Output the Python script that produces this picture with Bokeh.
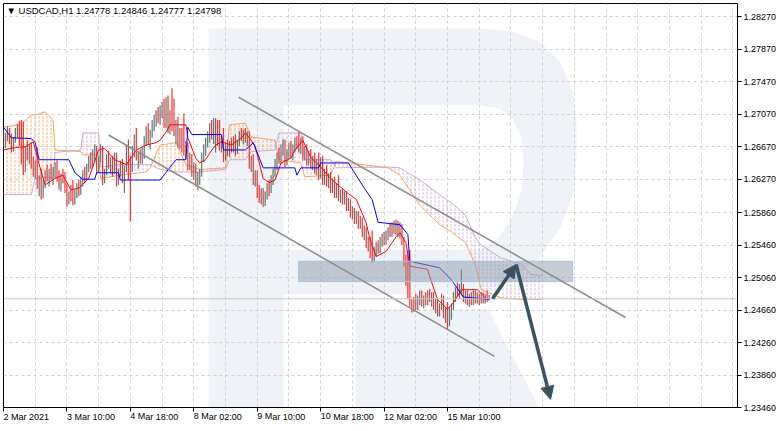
import numpy as np
from bokeh.plotting import figure
from bokeh.models import FixedTicker, PrintfTickFormatter, Label, Span, Arrow, NormalHead, Range1d
from bokeh.embed import file_html
from bokeh.resources import INLINE

# ---------------- data ----------------
TITLE = "USDCAD,H1  1.24778 1.24846 1.24777 1.24798"
TIME_TICK_BARS = [0, 32, 64, 96, 128, 160, 192, 224]
TIME_TICK_LABELS = ["2 Mar 2021", "3 Mar 10:00", "4 Mar 18:00", "8 Mar 02:00",
                    "9 Mar 10:00", "10 Mar 18:00", "12 Mar 02:00", "15 Mar 10:00"]
PRICE_TICKS = [1.23460, 1.23860, 1.24260, 1.24660, 1.25060, 1.25460, 1.25860,
               1.26270, 1.26670, 1.27070, 1.27470, 1.27870, 1.28270]

O = [1.2680,1.2672,1.2681,1.2688,1.2675,1.2664,1.2676,1.2686,1.2692,1.2672,
     1.2650,1.2640,1.2662,1.2655,1.2666,1.2644,1.2634,1.2646,1.2620,1.2628,
     1.2610,1.2622,1.2634,1.2628,1.2636,1.2630,1.2638,1.2642,1.2628,1.2620,
     1.2630,1.2626,1.2614,1.2600,1.2608,1.2604,1.2598,1.2610,1.2618,1.2612,
     1.2626,1.2634,1.2628,1.2642,1.2652,1.2646,1.2660,1.2666,1.2640,1.2652,
     1.2664,1.2628,1.2636,1.2654,1.2644,1.2650,1.2636,1.2656,1.2624,1.2636,
     1.2646,1.2626,1.2640,1.2660,1.2652,1.2640,1.2664,1.2676,1.2652,1.2656,
     1.2650,1.2662,1.2676,1.2688,1.2676,1.2684,1.2696,1.2702,1.2708,1.2700,
     1.2714,1.2718,1.2698,1.2720,1.2690,1.2708,1.2694,1.2686,1.2696,1.2672,
     1.2684,1.2704,1.2660,1.2668,1.2644,1.2654,1.2634,1.2642,1.2624,1.2630,
     1.2636,1.2656,1.2664,1.2672,1.2682,1.2690,1.2684,1.2672,1.2696,1.2698,
     1.2668,1.2676,1.2654,1.2668,1.2660,1.2670,1.2664,1.2676,1.2662,1.2672,
     1.2682,1.2678,1.2684,1.2676,1.2682,1.2646,1.2652,1.2626,1.2634,1.2610,
     1.2604,1.2612,1.2598,1.2608,1.2618,1.2612,1.2628,1.2636,1.2646,1.2656,
     1.2650,1.2666,1.2672,1.2648,1.2660,1.2668,1.2658,1.2666,1.2674,1.2682,
     1.2664,1.2674,1.2656,1.2664,1.2648,1.2658,1.2644,1.2652,1.2638,1.2648,
     1.2630,1.2650,1.2624,1.2636,1.2622,1.2630,1.2614,1.2624,1.2608,1.2618,
     1.2604,1.2610,1.2600,1.2608,1.2592,1.2600,1.2584,1.2590,1.2576,1.2584,
     1.2570,1.2578,1.2560,1.2566,1.2546,1.2552,1.2560,1.2530,1.2540,1.2546,
     1.2540,1.2552,1.2556,1.2550,1.2560,1.2564,1.2560,1.2570,1.2566,1.2572,
     1.2560,1.2570,1.2550,1.2526,1.2502,1.2490,1.2476,1.2470,1.2478,1.2470,
     1.2480,1.2486,1.2474,1.2480,1.2476,1.2486,1.2480,1.2484,1.2470,1.2476,
     1.2462,1.2470,1.2482,1.2460,1.2466,1.2450,1.2466,1.2470,1.2484,1.2490,
     1.2486,1.2488,1.2494,1.2480,1.2486,1.2476,1.2482,1.2476,1.2486,1.2478,
     1.2484,1.2476,1.2484,1.2478,1.2482,1.24778]
H = [1.2688,1.2684,1.2692,1.2690,1.2683,1.2679,1.2690,1.2695,1.2699,1.2700,
     1.2698,1.2668,1.2675,1.2670,1.2672,1.2655,1.2650,1.2666,1.2632,1.2640,
     1.2626,1.2638,1.2645,1.2640,1.2646,1.2642,1.2648,1.2650,1.2638,1.2634,
     1.2640,1.2636,1.2622,1.2612,1.2620,1.2626,1.2614,1.2622,1.2626,1.2630,
     1.2638,1.2642,1.2646,1.2656,1.2660,1.2664,1.2670,1.2668,1.2656,1.2670,
     1.2668,1.2640,1.2658,1.2662,1.2654,1.2656,1.2660,1.2660,1.2640,1.2650,
     1.2652,1.2644,1.2668,1.2676,1.2656,1.2668,1.2682,1.2690,1.2660,1.2664,
     1.2666,1.2680,1.2692,1.2696,1.2688,1.2700,1.2706,1.2712,1.2716,1.2718,
     1.2722,1.2726,1.2728,1.2730,1.2712,1.2739,1.2726,1.2700,1.2704,1.2690,
     1.2690,1.2708,1.2674,1.2672,1.2660,1.2658,1.2648,1.2646,1.2636,1.2640,
     1.2660,1.2670,1.2678,1.2686,1.2696,1.2700,1.2702,1.2702,1.2700,1.2700,
     1.2680,1.2690,1.2672,1.2676,1.2674,1.2678,1.2680,1.2682,1.2676,1.2686,
     1.2690,1.2688,1.2690,1.2686,1.2686,1.2656,1.2658,1.2638,1.2638,1.2620,
     1.2616,1.2616,1.2612,1.2622,1.2626,1.2632,1.2640,1.2652,1.2660,1.2666,
     1.2670,1.2676,1.2676,1.2664,1.2672,1.2674,1.2670,1.2678,1.2680,1.2685,
     1.2678,1.2680,1.2668,1.2670,1.2662,1.2664,1.2656,1.2660,1.2652,1.2660,
     1.2654,1.2656,1.2640,1.2644,1.2634,1.2636,1.2628,1.2630,1.2622,1.2632,
     1.2614,1.2616,1.2612,1.2612,1.2604,1.2602,1.2594,1.2592,1.2588,1.2588,
     1.2582,1.2580,1.2570,1.2568,1.2556,1.2556,1.2564,1.2544,1.2550,1.2552,
     1.2556,1.2560,1.2562,1.2564,1.2568,1.2572,1.2574,1.2576,1.2577,1.2576,
     1.2574,1.2572,1.2556,1.2534,1.2540,1.2540,1.2480,1.2482,1.2486,1.2484,
     1.2490,1.2490,1.2484,1.2488,1.2490,1.2492,1.2488,1.2488,1.2480,1.2480,
     1.2474,1.2486,1.2484,1.2470,1.2476,1.2470,1.2474,1.2488,1.2494,1.2500,
     1.2498,1.2516,1.2498,1.2490,1.2490,1.2486,1.2488,1.2490,1.2490,1.2488,
     1.2486,1.2488,1.2488,1.2486,1.2490,1.24846]
L = [1.2668,1.2665,1.2674,1.2670,1.2660,1.2661,1.2672,1.2678,1.2668,1.2645,
     1.2632,1.2636,1.2650,1.2645,1.2640,1.2630,1.2628,1.2615,1.2606,1.2602,
     1.2604,1.2616,1.2624,1.2618,1.2626,1.2620,1.2628,1.2624,1.2614,1.2612,
     1.2622,1.2610,1.2593,1.2596,1.2600,1.2595,1.2596,1.2604,1.2606,1.2608,
     1.2618,1.2622,1.2626,1.2636,1.2640,1.2642,1.2648,1.2634,1.2636,1.2648,
     1.2620,1.2622,1.2632,1.2640,1.2634,1.2630,1.2634,1.2618,1.2620,1.2630,
     1.2622,1.2610,1.2636,1.2626,1.2575,1.2636,1.2654,1.2650,1.2640,1.2646,
     1.2646,1.2652,1.2668,1.2670,1.2664,1.2678,1.2686,1.2692,1.2696,1.2694,
     1.2702,1.2690,1.2690,1.2684,1.2682,1.2686,1.2680,1.2670,1.2666,1.2664,
     1.2660,1.2656,1.2652,1.2638,1.2638,1.2630,1.2626,1.2618,1.2614,1.2620,
     1.2630,1.2648,1.2656,1.2666,1.2672,1.2676,1.2670,1.2660,1.2668,1.2662,
     1.2660,1.2648,1.2650,1.2656,1.2654,1.2660,1.2660,1.2656,1.2658,1.2668,
     1.2674,1.2670,1.2672,1.2668,1.2640,1.2636,1.2620,1.2618,1.2604,1.2598,
     1.2596,1.2593,1.2594,1.2602,1.2606,1.2610,1.2620,1.2630,1.2638,1.2646,
     1.2646,1.2656,1.2642,1.2644,1.2652,1.2654,1.2650,1.2660,1.2664,1.2660,
     1.2658,1.2650,1.2650,1.2644,1.2644,1.2640,1.2638,1.2634,1.2632,1.2626,
     1.2628,1.2620,1.2620,1.2618,1.2616,1.2610,1.2610,1.2604,1.2604,1.2600,
     1.2598,1.2596,1.2596,1.2588,1.2588,1.2580,1.2578,1.2572,1.2572,1.2566,
     1.2566,1.2556,1.2552,1.2542,1.2538,1.2530,1.2524,1.2526,1.2532,1.2536,
     1.2536,1.2544,1.2546,1.2546,1.2552,1.2556,1.2556,1.2560,1.2558,1.2556,
     1.2554,1.2546,1.2520,1.2496,1.2480,1.2470,1.2463,1.2464,1.2466,1.2466,
     1.2472,1.2470,1.2468,1.2472,1.2472,1.2476,1.2470,1.2466,1.2462,1.2458,
     1.2458,1.2466,1.2456,1.2450,1.2442,1.2446,1.2454,1.2466,1.2476,1.2482,
     1.2480,1.2484,1.2476,1.2474,1.2472,1.2470,1.2472,1.2472,1.2474,1.2474,
     1.2472,1.2474,1.2474,1.2474,1.2476,1.24777]
C = [1.2672,1.2681,1.2688,1.2675,1.2664,1.2676,1.2686,1.2692,1.2672,1.2650,
     1.2640,1.2662,1.2655,1.2666,1.2644,1.2634,1.2646,1.2620,1.2628,1.2610,
     1.2622,1.2634,1.2628,1.2636,1.2630,1.2638,1.2642,1.2628,1.2620,1.2630,
     1.2626,1.2614,1.2600,1.2608,1.2604,1.2598,1.2610,1.2618,1.2612,1.2626,
     1.2634,1.2628,1.2642,1.2652,1.2646,1.2660,1.2666,1.2640,1.2652,1.2664,
     1.2628,1.2636,1.2654,1.2644,1.2650,1.2636,1.2656,1.2624,1.2636,1.2646,
     1.2626,1.2640,1.2660,1.2630,1.2640,1.2664,1.2676,1.2652,1.2656,1.2650,
     1.2662,1.2676,1.2688,1.2676,1.2684,1.2696,1.2702,1.2708,1.2700,1.2714,
     1.2718,1.2698,1.2720,1.2690,1.2708,1.2694,1.2686,1.2696,1.2672,1.2684,
     1.2666,1.2660,1.2668,1.2644,1.2654,1.2634,1.2642,1.2624,1.2630,1.2636,
     1.2656,1.2664,1.2672,1.2682,1.2690,1.2684,1.2698,1.2696,1.2674,1.2668,
     1.2676,1.2654,1.2668,1.2660,1.2670,1.2664,1.2676,1.2662,1.2672,1.2682,
     1.2678,1.2684,1.2676,1.2682,1.2646,1.2652,1.2626,1.2634,1.2610,1.2604,
     1.2612,1.2598,1.2608,1.2618,1.2612,1.2628,1.2636,1.2646,1.2656,1.2650,
     1.2666,1.2672,1.2648,1.2660,1.2668,1.2658,1.2666,1.2674,1.2668,1.2664,
     1.2674,1.2656,1.2664,1.2648,1.2658,1.2644,1.2652,1.2638,1.2648,1.2630,
     1.2650,1.2624,1.2636,1.2622,1.2630,1.2614,1.2624,1.2608,1.2618,1.2604,
     1.2610,1.2600,1.2608,1.2592,1.2600,1.2584,1.2590,1.2576,1.2584,1.2570,
     1.2578,1.2560,1.2566,1.2546,1.2552,1.2534,1.2530,1.2540,1.2546,1.2540,
     1.2552,1.2556,1.2550,1.2560,1.2564,1.2560,1.2570,1.2566,1.2572,1.2560,
     1.2570,1.2550,1.2526,1.2502,1.2490,1.2476,1.2470,1.2478,1.2470,1.2480,
     1.2486,1.2474,1.2480,1.2476,1.2486,1.2480,1.2484,1.2470,1.2476,1.2462,
     1.2470,1.2482,1.2460,1.2466,1.2450,1.2466,1.2470,1.2484,1.2490,1.2486,
     1.2494,1.2494,1.2480,1.2486,1.2476,1.2482,1.2476,1.2486,1.2478,1.2484,
     1.2476,1.2484,1.2478,1.2482,1.24778,1.24798]

TENKAN_BARS = [0,6,11,15,18,21,26,30,34,38,43,48,51,56,62,67,72,77,79,82,
               84,92,93,97,99,102,104,107,110,115,120,122,125,127,131,134,137,140,145,147,
               151,155,160,165,173,178,183,185,188,193,198,200,203,205,214,215,219,224,227,231,
               239,244,245]
TENKAN = [1.2663,1.2666,1.2667,1.2673,1.2645,1.2620,1.2628,1.2632,1.2614,1.2616,
          1.2628,1.2663,1.2665,1.2651,1.2645,1.2663,1.2669,1.2672,1.2675,1.2685,
          1.2694,1.2694,1.2678,1.2653,1.2647,1.2651,1.2659,1.2669,1.2673,1.2669,
          1.2678,1.2684,1.2675,1.2667,1.2628,1.2623,1.2626,1.2647,1.2653,1.2663,
          1.2675,1.2654,1.2642,1.2628,1.2611,1.2602,1.2573,1.2552,1.2532,1.2538,
          1.2556,1.2561,1.2549,1.2520,1.2516,1.2507,1.2479,1.2467,1.2475,1.2491,
          1.2491,1.2479,1.2479]
KIJUN_BARS = [0,4,14,16,18,33,36,40,46,47,58,59,79,87,92,93,95,110,111,122,
              126,131,147,148,150,159,160,174,182,186,189,200,204,205,220,226,232,245]
KIJUN = [1.2691,1.2678,1.2677,1.2672,1.2651,1.2651,1.2635,1.2627,1.2627,1.2635,
         1.2635,1.2626,1.2626,1.2651,1.2651,1.2691,1.2682,1.2682,1.2663,1.2663,
         1.2672,1.2641,1.2641,1.2632,1.2641,1.2641,1.2647,1.2647,1.2616,1.2602,
         1.2574,1.2571,1.2559,1.2526,1.2518,1.2503,1.2482,1.2479]
SPAN_BARS = [0,9,14,16,21,25,26,39,40,48,49,59,72,74,79,87,92,99,112,114,
             122,125,137,139,150,152,165,168,194,200,210,220,226,233,238,241,246,251,261,266,272]
SPAN_A = [1.2691,1.2695,1.2706,1.2706,1.2710,1.2700,1.2663,1.2661,1.2657,1.2657,
          1.2628,1.2632,1.2636,1.2641,1.2669,1.2672,1.2645,1.2639,1.2641,1.2694,
          1.2696,1.2679,1.2675,1.2651,1.2647,1.2630,1.2632,1.2649,1.2641,1.2632,
          1.2595,1.2571,1.2562,1.2549,1.2522,1.2491,1.2486,1.2481,1.2479,1.2479,1.2479]
SPAN_B = [1.2608,1.2608,1.2608,1.2628,1.2629,1.2629,1.2660,1.2663,1.2684,1.2684,
          1.2642,1.2645,1.2645,1.2645,1.2639,1.2636,1.2636,1.2636,1.2639,1.2651,
          1.2651,1.2661,1.2663,1.2684,1.2684,1.2651,1.2651,1.2641,1.2642,1.2641,
          1.2626,1.2608,1.2598,1.2583,1.2555,1.2546,1.2538,1.2530,1.2523,1.2510,1.2508]

CHANNEL_UP_BARS = [118.6, 313.8]
CHANNEL_UP_PRICES = [1.27280, 1.24568]
CHANNEL_LOW_BARS = [53.0, 247.7]
CHANNEL_LOW_PRICES = [1.26814, 1.24090]
ZONE_BARS = [148.8, 287.1]
ZONE_PRICES = [1.2501, 1.2526]
FORECAST_BARS = [246.7, 258.6, 276.0]
FORECAST_PRICES = [1.2480, 1.2522, 1.2356]

# watermark "R" outline (bar index, price)
WM_STEM_X = [103.4, 141.3, 141.3, 103.4]
WM_STEM_Y = [1.28126, 1.28126, 1.2340, 1.2340]
WM_BOWL_X = [141.3, 240.7, 256.8, 270.9, 281.0, 287.1, 289.1, 289.1, 287.1, 281.0, 270.9, 256.8, 240.7, 141.3]
WM_BOWL_Y = [1.28126, 1.28126, 1.28090, 1.27952, 1.27709, 1.27366, 1.26936, 1.26507, 1.26077, 1.25672,
             1.25329, 1.25034, 1.24850, 1.24850]
WM_HOLE_X = [141.3, 240.7, 249.7, 256.8, 260.8, 262.4, 261.4, 256.8, 249.7, 240.7, 141.3]
WM_HOLE_Y = [1.27182, 1.27182, 1.27145, 1.27022, 1.26814, 1.26507, 1.26139, 1.25795, 1.25549, 1.25402, 1.25402]
WM_LEG_X = [177.6, 244.7, 271.4, 177.6]
WM_LEG_Y = [1.24666, 1.24666, 1.2340, 1.2340]

# ---------------- figure ----------------
FONT = "Liberation Sans"
BULL = "#5a7775"
BEAR = "#ff2b2b"
Y0, Y1 = 1.2346, 1.28433

p = figure(width=782, height=431, x_range=Range1d(0, 370.3), y_range=Range1d(Y0, Y1),
           y_axis_location="right", output_backend="svg", toolbar_location=None, title=None,
           min_border_left=3, min_border_top=3, min_border_right=45, min_border_bottom=24,
           background_fill_color="white", border_fill_color="white")
p.outline_line_color = "black"
p.outline_line_width = 1

for ax in (p.xaxis[0], p.yaxis[0]):
    ax.major_tick_out = 4
    ax.major_tick_in = 0
    ax.minor_tick_out = 0
    ax.minor_tick_in = 0
    ax.major_label_standoff = 2
    ax.axis_line_color = "black"
    ax.major_tick_line_color = "black"
    ax.major_label_text_font = FONT
    ax.major_label_text_font_size = "9px"
    ax.major_label_text_color = "black"

xa = p.xaxis[0]
xa.ticker = FixedTicker(ticks=TIME_TICK_BARS)
xa.major_label_overrides = {t: s for t, s in zip(TIME_TICK_BARS, TIME_TICK_LABELS)}
# a (practically zero) negative angle makes the labels start at their tick, as in the terminal
xa.major_label_orientation = -1e-6
xa.major_label_standoff = 5
ya = p.yaxis[0]
ya.ticker = FixedTicker(ticks=PRICE_TICKS)
ya.formatter = PrintfTickFormatter(format="%.5f")

p.xgrid[0].ticker = FixedTicker(ticks=list(range(0, 371, 16)))
p.ygrid[0].ticker = FixedTicker(ticks=PRICE_TICKS)
for g in (p.xgrid[0], p.ygrid[0]):
    g.grid_line_color = "#d2d2d2"
    g.grid_line_dash = "3 3"
    g.grid_line_width = 1

# watermark
WM = "#eff2f6"
p.patches(xs=[WM_STEM_X, WM_LEG_X], ys=[WM_STEM_Y, WM_LEG_Y], fill_color=WM, line_color=None, level="image")
p.multi_polygons(xs=[[[WM_BOWL_X, WM_HOLE_X]]], ys=[[[WM_BOWL_Y, WM_HOLE_Y]]],
                 fill_color=WM, line_color=None, level="image")

# ichimoku cloud
A = np.array(SPAN_A)
B = np.array(SPAN_B)
top = np.maximum(A, B)
ORANGE = "#f4a460"
THISTLE = "#cfa8d6"
p.varea(x=SPAN_BARS, y1=B, y2=top, fill_color=None, hatch_pattern=":", hatch_color=ORANGE,
        hatch_scale=4, hatch_weight=1, hatch_alpha=0.75)
p.varea(x=SPAN_BARS, y1=A, y2=top, fill_color=None, hatch_pattern=":", hatch_color=THISTLE,
        hatch_scale=4, hatch_weight=1, hatch_alpha=0.75)
p.line(SPAN_BARS, SPAN_A, line_color=ORANGE, line_width=1)
p.line(SPAN_BARS, SPAN_B, line_color=THISTLE, line_width=1)

# candles
bars = list(range(len(C)))
colors = [BULL if c >= o else BEAR for o, c in zip(O, C)]
p.segment(x0=bars, y0=L, x1=bars, y1=H, line_color=colors, line_width=1.2)

# tenkan / kijun
p.line(TENKAN_BARS, TENKAN, line_color="#ff0000", line_width=1)
p.line(KIJUN_BARS, KIJUN, line_color="#0000ff", line_width=1)

# current price line
p.add_layout(Span(location=C[-1], dimension="width", line_color="#c8c8c8", line_width=1))

# zone
p.quad(left=ZONE_BARS[0], right=ZONE_BARS[1], bottom=ZONE_PRICES[0], top=ZONE_PRICES[1],
       fill_color="#8e9cab", fill_alpha=0.5, line_color="#a9c2e2", line_width=1)

# channel
p.line(CHANNEL_UP_BARS, CHANNEL_UP_PRICES, line_color="#8c8c8c", line_width=1.5)
p.line(CHANNEL_LOW_BARS, CHANNEL_LOW_PRICES, line_color="#8c8c8c", line_width=1.5)

# forecast arrows
AC = "#3d5261"
for i in range(2):
    p.add_layout(Arrow(end=NormalHead(size=13, fill_color=AC, line_color=AC),
                       x_start=FORECAST_BARS[i], y_start=FORECAST_PRICES[i],
                       x_end=FORECAST_BARS[i + 1], y_end=FORECAST_PRICES[i + 1],
                       line_color=AC, line_width=3.5))

# title
p.add_layout(Label(x=1.5, y=1.28347, text="\u25bc " + TITLE, text_font=FONT, text_font_size="9.5px",
                   text_baseline="middle", text_color="black"))

# price box
p.add_layout(Label(x=372.3, y=C[-1], text=f"{C[-1]:.5f}", text_font=FONT, text_font_size="9px",
                   text_baseline="middle", text_align="left", text_color="white",
                   background_fill_color="black", padding=2))

open("out.html", "w").write(file_html(p, INLINE))
